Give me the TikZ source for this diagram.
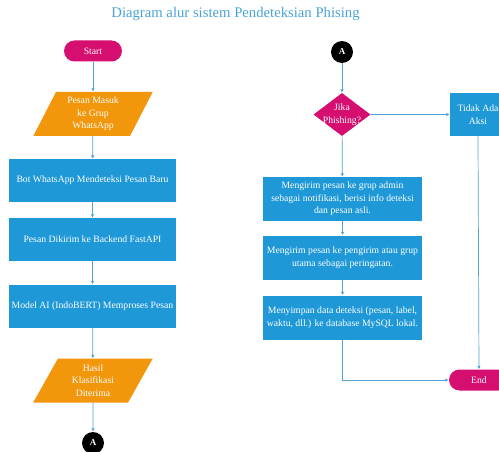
\documentclass[tikz,border=0pt]{standalone}
\usepackage{fontspec}
\setmainfont{Liberation Serif}
\usetikzlibrary{shapes.geometric,arrows.meta}
\definecolor{boxblue}{RGB}{30,152,215}
\definecolor{ioorange}{RGB}{242,150,12}
\definecolor{termpink}{RGB}{214,14,112}
\definecolor{flowline}{RGB}{80,162,210}
\definecolor{titleblue}{RGB}{74,163,213}
\begin{document}
\begin{tikzpicture}[x=1pt,y=-1pt,
  txt/.style={text=white,font=\fontsize{9.7}{12.5}\selectfont,align=center,inner sep=0pt},
  procbox/.style={txt,rectangle,fill=boxblue,minimum width=167pt,minimum height=43pt},
  rprocbox/.style={txt,rectangle,fill=boxblue,minimum width=159pt,minimum height=44pt},
  iobox/.style={txt,trapezium,trapezium left angle=65,trapezium right angle=115,trapezium stretches=true,fill=ioorange,minimum width=120pt,minimum height=44pt},
  term/.style={txt,rectangle,rounded corners=10.5pt,fill=termpink,minimum width=58pt,minimum height=21pt},
  conn/.style={txt,circle,fill=black,minimum size=22pt,font=\fontsize{9}{11}\selectfont\bfseries},
  decide/.style={diamond,fill=termpink,minimum width=57pt,minimum height=43pt,inner sep=0pt},
  flow/.style={draw=flowline,line width=0.7pt,-{Latex[length=3.5pt,width=3.5pt]}}
]
\useasboundingbox (0,0) rectangle (499,452);
\node[text=titleblue,font=\fontsize{14.7}{17}\selectfont,inner sep=0pt] (title) at (235.5,14) {Diagram alur sistem Pendeteksian Phising};
% left column
\node[term] (start) at (93,51) {Start};
\node[iobox] (in1) at (93,114) {Pesan Masuk\\ke Grup\\WhatsApp};
\node[procbox] (b1) at (92.5,180.5) {Bot WhatsApp Mendeteksi Pesan Baru};
\node[procbox] (b2) at (92.5,239.5) {Pesan Dikirim ke Backend FastAPI};
\node[procbox] (b3) at (92.5,306) {Model AI (IndoBERT) Memproses Pesan};
\node[iobox] (in2) at (93,380.5) {Hasil\\Klasifikasi\\Diterima};
\node[conn] (a1) at (93,443) {A};
\draw[flow] (start) -- (in1);
\draw[flow] (in1) -- (b1);
\draw[flow] (b1) -- (b2);
\draw[flow] (b2) -- (b3);
\draw[flow] (b3) -- (in2);
\draw[flow] (in2) -- (a1);
% right column
\node[conn] (a2) at (342,52) {A};
\node[decide] (dec) at (342,114.5) {};
\node[txt] (dectxt) at (dec.center) {Jika\\Phishing?};
\node[txt,rectangle,fill=boxblue,minimum width=56pt,minimum height=43pt] (none) at (478,114.5) {Tidak Ada\\Aksi};
\node[rprocbox] (r1) at (342.5,199) {Mengirim pesan ke grup admin\\sebagai notifikasi, berisi info deteksi\\dan pesan asli.};
\node[rprocbox] (r2) at (342.5,257.5) {Mengirim pesan ke pengirim atau grup\\utama sebagai peringatan.};
\node[rprocbox] (r3) at (342.5,317.5) {Menyimpan data deteksi (pesan, label,\\waktu, dll.) ke database MySQL lokal.};
\node[term,minimum width=60pt,minimum height=21pt] (end) at (479,380) {End};
\coordinate (bend) at (r3.south |- end.west);
\draw[flow] (a2) -- (dec);
\draw[flow] (dec) -- (none);
\draw[flow] (dec) -- (r1);
\draw[flow] (r1) -- (r2);
\draw[flow] (r2) -- (r3);
\draw[flow] (none.south) -- (end.north);
\draw[flow] (r3.south) -- (bend) -- (end.west);
\end{tikzpicture}
\end{document}
